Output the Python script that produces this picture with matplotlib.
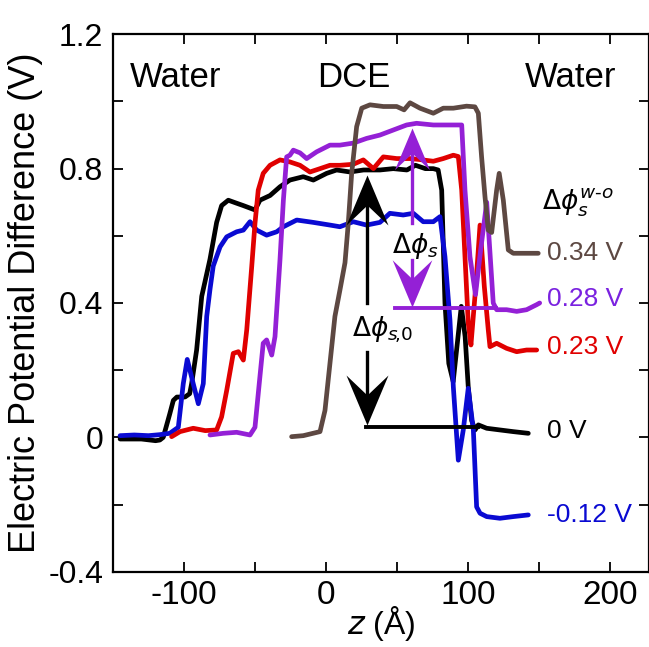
import numpy as np
import matplotlib
matplotlib.use("Agg")
import matplotlib.pyplot as plt
from matplotlib.path import Path
from matplotlib.ticker import FixedLocator, MultipleLocator

plt.rcParams['font.family'] = ['Liberation Sans', 'DejaVu Sans']
plt.rcParams['mathtext.fontset'] = 'dejavusans'

# potential profiles along z for each applied interfacial potential
black_z = [-145, -130, -120, -117, -114.6, -110, -107.5, -105, -99.3, -96, -94.6, -91.1, -87.5,
           -81.7, -77, -73.5, -68.8, -62.9, -58.2, -50, -46.5, -39.4, -32.4, -25.4, -16, -8.9,
           0.5, 7.5, 17, 26.4, 38, 47.4, 57, 63, 70, 75.6, 79, 81.5, 83.8, 86.5, 89.6, 92.5,
           95.3, 98, 100.2, 102.6, 105, 107.3, 113.2, 122.5, 131.9, 142.5]
black_v = [-0.005, -0.005, -0.01, -0.008, 0.0, 0.07, 0.11, 0.12, 0.12, 0.13, 0.16, 0.26, 0.42,
           0.53, 0.64, 0.69, 0.706, 0.697, 0.69, 0.677, 0.706, 0.72, 0.746, 0.766, 0.776, 0.766,
           0.786, 0.796, 0.79, 0.796, 0.796, 0.80, 0.796, 0.81, 0.80, 0.80, 0.796, 0.736, 0.40,
           0.22, 0.166, 0.28, 0.39, 0.30, 0.15, 0.05, 0.022, 0.037, 0.027, 0.022, 0.017, 0.012]

blue_z = [-145, -135, -125, -117, -110, -104, -100.5, -97.7, -93.5, -89.9, -86.4, -84, -81.7,
          -79.4, -74.6, -69.9, -62.9, -58.2, -53.5, -48.8, -41.8, -34.7, -30, -20.6, -9, 2.8,
          9.8, 19.2, 28.6, 38, 45, 54.4, 61.5, 68.5, 75.6, 80.3, 83.8, 87.3, 89.7, 93.2, 96.7,
          100.2, 103.8, 106.1, 108.5, 113.2, 122.5, 131.9, 142.5]
blue_v = [0.005, 0.007, 0.005, 0.008, 0.012, 0.03, 0.16, 0.232, 0.16, 0.10, 0.16, 0.36, 0.44,
          0.51, 0.567, 0.597, 0.612, 0.617, 0.642, 0.617, 0.602, 0.612, 0.627, 0.647, 0.64, 0.632,
          0.627, 0.642, 0.632, 0.64, 0.667, 0.662, 0.667, 0.642, 0.642, 0.657, 0.538, 0.35, 0.15,
          -0.068, 0.022, 0.146, 0.022, -0.207, -0.226, -0.236, -0.241, -0.236, -0.231]

red_z = [-108.7, -102.8, -93.5, -85, -77, -73.5, -69.9, -65.3, -61.7, -58.2, -55.8, -52.3, -50,
         -47.7, -44.2, -39.4, -32.4, -25.4, -18.3, -11.3, -4.2, 2.8, 9.8, 19.2, 26.3, 33.4, 40.4,
         49.8, 59.2, 66.2, 75.6, 82.6, 89.7, 93.2, 95.6, 97.9, 100.2, 102.1, 105.5, 108.5, 111.5,
         114.3, 115.5, 120.2, 127.2, 134.3, 141.3, 148.4]
red_v = [0.002, 0.017, 0.027, 0.02, 0.022, 0.061, 0.14, 0.25, 0.255, 0.23, 0.32, 0.508, 0.637,
         0.736, 0.786, 0.81, 0.826, 0.82, 0.81, 0.79, 0.80, 0.81, 0.81, 0.813, 0.826, 0.80, 0.835,
         0.83, 0.83, 0.827, 0.822, 0.83, 0.84, 0.836, 0.736, 0.538, 0.34, 0.275, 0.45, 0.632, 0.45,
         0.32, 0.27, 0.28, 0.265, 0.255, 0.26, 0.26]

purple_z = [-81.7, -72.3, -62.9, -53.5, -50, -47, -44.2, -41.8, -38.2, -35.9, -32.4, -30, -27.7,
            -25.4, -23, -18.3, -13.6, -6.6, 2.8, 9.8, 19.2, 28.6, 38, 47.4, 56.8, 63.8, 75.6,
            87.3, 95.6, 97.9, 101.4, 105.3, 109, 113.2, 115.5, 117.8, 120.2, 127.2, 134.3, 141.3,
            148.4, 150.5]
purple_v = [0.007, 0.012, 0.015, 0.007, 0.03, 0.16, 0.28, 0.29, 0.245, 0.30, 0.528, 0.706, 0.835,
            0.84, 0.855, 0.847, 0.83, 0.85, 0.87, 0.87, 0.876, 0.89, 0.90, 0.915, 0.93, 0.935, 0.93,
            0.93, 0.93, 0.736, 0.538, 0.425, 0.56, 0.70, 0.55, 0.40, 0.38, 0.38, 0.375, 0.38,
            0.395, 0.40]

brown_z = [-24.2, -16, -4.2, -0.7, 2.8, 6.3, 9.9, 13.4, 15.7, 18.1, 21.6, 25.2, 31, 40.4, 49.8,
           55, 59.2, 66.2, 75.6, 82.6, 89.7, 99, 104.9, 107.3, 109.6, 112, 114.3, 116.7, 120.2,
           122, 124.9, 128.4, 131.9, 139, 146, 149.5]
brown_v = [0.002, 0.005, 0.017, 0.08, 0.22, 0.36, 0.44, 0.52, 0.637, 0.786, 0.925, 0.98, 0.99,
           0.985, 0.985, 0.975, 0.996, 0.98, 0.965, 0.98, 0.98, 0.986, 0.984, 0.965, 0.835, 0.716,
           0.617, 0.61, 0.736, 0.786, 0.706, 0.558, 0.548, 0.548, 0.548, 0.548]

labels = ['0 V', '-0.12 V', '0.23 V', '0.28 V', '0.34 V']
label_v = [0.019, -0.231, 0.269, 0.412, 0.549]
colors = ['#000000', '#0a0ad2', '#e00000', '#9420d6', '#5d4842']
text_colors = ['#000000', '#0a0ad2', '#e00000', '#7a22e0', '#5d4842']

xticks = [-100, 0, 100, 200]
xticklabels = ['-100', '0', '100', '200']
yticks = [-0.4, 0, 0.4, 0.8, 1.2]
yticklabels = ['-0.4', '0', '0.4', '0.8', '1.2']

fig = plt.figure(figsize=(6.49, 6.47), dpi=100)
ax = fig.add_axes([0.1741, 0.1164, 0.8259, 0.8306])

curves = [(black_z, black_v), (blue_z, blue_v), (red_z, red_v),
          (purple_z, purple_v), (brown_z, brown_v)]
for (z, v), c in zip(curves, colors):
    ax.plot(z, v, color=c, lw=3.4, solid_joinstyle='round', solid_capstyle='round', zorder=2)

for lab, yv, c in zip(labels, label_v, text_colors):
    ax.text(155.5, yv, lab, color=c, fontsize=19, ha='left', va='center')

# notched arrow head, tip at the origin, pointing up
head_up = Path([(0, 0), (0.42, -1), (0, -0.6), (-0.42, -1), (0, 0)],
               [Path.MOVETO, Path.LINETO, Path.LINETO, Path.LINETO, Path.CLOSEPOLY])
head_down = Path([(0, 0), (0.42, 1), (0, 0.6), (-0.42, 1), (0, 0)],
                 [Path.MOVETO, Path.LINETO, Path.LINETO, Path.LINETO, Path.CLOSEPOLY])

# delta phi_s,0 : black double arrow down to the reference line
ax.plot([28, 107], [0.03, 0.03], color='k', lw=2.8, zorder=3)
ax.plot([28.6, 28.6], [0.40, 0.74], color='k', lw=2.4, zorder=3)
ax.plot([28.6, 28.6], [0.255, 0.07], color='k', lw=2.4, zorder=3)
ax.plot([28.6], [0.78], marker=head_up, ms=72, color='k', mew=0, zorder=4)
ax.plot([28.6], [0.036], marker=head_down, ms=72, color='k', mew=0, zorder=4)
ax.text(18.1, 0.299, r'$\Delta\phi_{s\!,\!0}$', fontsize=19, ha='left', va='baseline')

# delta phi_s : purple double arrow
pc = '#9420d6'
ax.plot([48.6, 120], [0.386, 0.386], color=pc, lw=2.8, zorder=3)
ax.plot([60.4, 60.4], [0.637, 0.88], color=pc, lw=2.4, zorder=3)
ax.plot([60.4, 60.4], [0.528, 0.42], color=pc, lw=2.4, zorder=3)
ax.plot([60.4], [0.92], marker=head_up, ms=60, color=pc, mew=0, zorder=4)
ax.plot([60.4], [0.389], marker=head_down, ms=68, color=pc, mew=0, zorder=4)
ax.text(46.3, 0.549, r'$\Delta\phi_s$', fontsize=19, ha='left', va='baseline')

ax.text(151.9, 0.677, r'$\Delta\phi_s^{w\text{-}o}$', fontsize=19, ha='left', va='baseline')

ax.text(-105.6, 1.07, 'Water', fontsize=25, ha='center', va='center')
ax.text(19.7, 1.07, 'DCE', fontsize=25, ha='center', va='center')
ax.text(172.5, 1.07, 'Water', fontsize=25, ha='center', va='center')

ax.set_xlim(-150, 227.5)
ax.set_ylim(-0.4, 1.2)
ax.xaxis.set_major_locator(FixedLocator(xticks))
ax.set_xticklabels(xticklabels)
ax.xaxis.set_minor_locator(MultipleLocator(50))
ax.yaxis.set_major_locator(FixedLocator(yticks))
ax.set_yticklabels(yticklabels)
ax.yaxis.set_minor_locator(MultipleLocator(0.2))
ax.tick_params(which='both', direction='in', top=True, right=True, length=7, width=1.3)
ax.tick_params(axis='x', labelsize=24, pad=6)
ax.tick_params(axis='y', labelsize=23, pad=7)
for s in ax.spines.values():
    s.set_linewidth(1.6)

ax.set_xlabel(r'$z$ (Å)', fontsize=23, labelpad=-5)
ax.set_ylabel('Electric Potential Difference (V)', fontsize=26, labelpad=4)

fig.savefig('out.png', dpi=100)
